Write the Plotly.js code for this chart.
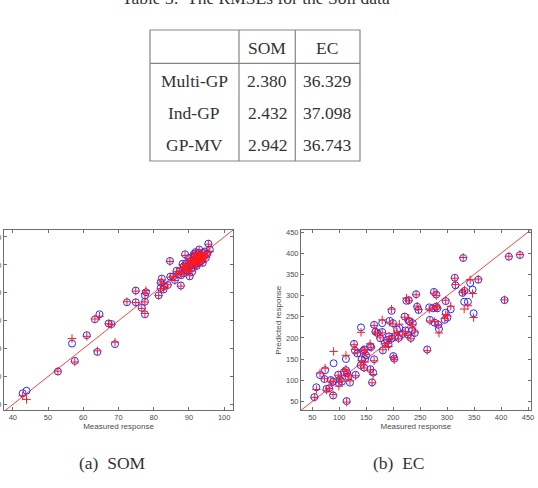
<!DOCTYPE html>
<html>
<head>
<meta charset="utf-8">
<script src="https://cdn.plot.ly/plotly-3.0.1.min.js"></script>
<style>
html,body{margin:0;padding:0;background:#fff;}
#chart{width:538px;height:488px;}
</style>
</head>
<body>
<div id="chart"></div>
<script>
// ---- Table data ----
const tableTitle = 'Table 3:  The RMSEs for the Soil data';
const tableCols = ['SOM', 'EC'];
const tableRows = ['Multi-GP', 'Ind-GP', 'GP-MV'];
const rmseSOM = [2.380, 2.432, 2.942];
const rmseEC = [36.329, 37.098, 36.743];

// ---- (a) SOM: measured vs predicted ----
const somMeasured = [42.8,43.9,52.8,56.8,57.6,61.0,63.3,64.0,64.6,67.2,68.0,69.0,72.4,74.9,74.9,76.6,77.5,77.8,77.5,77.5,
  81.4,82.0,82.3,82.0,82.8,83.0,84.0,84.6,84.7,85.5,86.0,86.9,87.7,87.4,88.2,88.9,88.4,89.1,89.7,90.2,
  90.6,91.2,91.5,92.9,93.6,93.9,94.5,95.5,95.9,93.9,
  88.8,89.4,89.9,90.4,90.8,91.0,91.3,91.6,91.8,92.0,92.1,92.3,92.4,92.6,92.8,92.9,93.1,93.3,93.4,93.0,
  92.2,91.4,90.0,89.3,88.5,92.7,94.2,94.8,95.2,87.8,86.5,90.9,91.9];
const somPredBlue = [44.0,44.9,51.8,61.8,55.6,64.8,70.5,58.8,72.3,69.0,68.8,61.6,76.6,80.8,76.6,74.6,79.1,80.2,76.8,72.3,
  79.1,83.7,85.1,81.8,81.2,82.4,82.8,91.4,85.8,85.8,84.6,86.6,82.6,87.7,90.4,93.8,87.0,89.2,87.7,85.9,
  90.4,91.9,93.3,95.5,91.9,90.7,94.8,97.6,95.5,94.3,
  88.4,90.6,89.4,91.2,88.8,90.1,92.6,91.0,89.9,92.0,93.1,91.5,90.5,92.5,91.9,93.6,92.2,93.0,91.3,90.9,
  89.6,93.9,92.5,88.1,89.5,94.3,93.1,92.5,94.0,86.3,87.9,87.5,94.6];
const somPredRed = [43.1,41.8,51.9,63.6,55.2,64.4,70.6,59.2,71.6,68.9,68.6,62.3,76.8,80.6,76.5,74.4,79.7,80.8,76.7,72.6,
  79.0,83.5,84.6,81.4,81.5,82.2,82.9,91.2,85.6,85.9,84.4,86.8,82.4,87.5,90.1,93.4,87.3,89.0,87.9,86.1,
  90.2,91.7,93.0,95.2,92.1,90.9,94.5,97.4,94.8,94.0,
  88.6,90.4,89.6,91.0,89.1,90.3,92.4,91.2,90.1,91.8,92.9,91.3,90.8,92.6,92.0,93.3,92.4,92.7,91.5,91.2,
  89.9,93.6,92.3,88.3,89.3,94.1,92.9,92.7,93.6,86.5,87.7,87.8,94.4];

// ---- (b) EC: measured vs predicted ----
const ecMeasured = [53.7,57.5,64.3,73.7,72.4,76.2,81.2,84.3,88.6,89.5,88.6,98.0,99.2,101.0,104.8,108.6,112.3,112.3,113.6,114.8,
  119.8,117.0,127.3,129.1,130.4,133.5,139.7,140.3,141.6,144.1,146.6,146.0,147.8,149.7,157.2,157.8,159.0,160.9,162.8,164.6,
  164.6,167.1,170.9,175.9,179.6,180.8,179.6,184.6,188.3,192.1,191.4,193.3,197.0,197.0,199.5,200.2,202.0,202.6,207.0,210.1,
  211.4,217.6,221.3,222.6,224.5,227.6,228.8,228.8,230.7,232.6,235.0,236.3,240.0,242.5,244.4,246.9,263.1,266.8,268.1,273.7,
  275.5,276.8,279.9,279.9,281.8,283.6,284.9,297.4,297.4,295.5,300.5,306.7,314.2,315.4,328.5,329.8,331.6,332.2,338.5,342.8,
  347.2,349.1,357.8,406.4,414.5,435.1];
const ecPredBlue = [60.1,83.4,112.2,123.8,102.8,79.5,81.1,100.5,96.6,140.1,64.0,113.0,93.5,102.0,96.6,119.2,150.2,123.8,50.8,116.8,
  94.3,108.0,186.0,170.0,113.0,163.4,135.5,224.8,149.5,169.7,172.8,130.0,150.0,158.8,180.5,126.1,178.2,95.0,118.0,149.5,
  231.0,214.7,211.6,199.2,234.9,170.4,214.0,188.3,194.5,203.8,185.0,240.4,264.0,198.4,234.9,157.2,151.0,202.3,220.0,200.0,
  223.3,209.3,250.5,217.8,287.8,207.7,289.3,240.0,238.8,200.0,218.0,234.9,211.6,303.3,273.8,266.0,172.8,272.2,242.7,269.9,
  308.7,236.0,302.5,273.8,269.9,231.0,221.0,287.0,259.8,242.7,248.1,267.6,342.1,324.3,306.4,388.8,285.4,311.0,285.4,329.7,
  314.2,258.2,337.5,289.3,391.9,395.8];
const ecPredRed = [59.5,78.0,116.8,128.5,103.5,76.4,80.5,98.0,96.0,168.1,66.0,112.0,86.0,104.0,97.5,121.0,158.8,126.0,48.5,114.0,
  98.5,110.0,184.0,172.8,110.5,165.0,134.0,213.2,147.0,172.0,170.5,129.0,143.2,161.0,186.0,124.0,177.0,94.0,113.7,146.0,
  229.0,214.0,210.0,200.0,242.7,172.0,212.0,186.0,187.0,203.0,179.8,237.3,268.0,199.0,233.0,154.0,148.5,210.0,214.0,198.0,
  232.6,207.0,249.0,214.0,294.0,206.0,288.0,246.6,237.0,198.0,223.3,231.0,214.0,302.0,275.0,267.0,170.0,268.0,240.0,271.0,
  306.0,238.8,300.0,275.0,271.0,232.0,211.6,289.0,255.0,246.0,252.0,275.0,341.0,326.0,308.0,390.0,268.3,313.0,276.0,337.5,
  304.9,248.1,339.0,290.0,393.0,397.0];

// axis ranges
const somRangeX = [37.5, 102.5];
const somRangeY = [38, 102.5];
const ecRange = [29, 455];

const W = 538, H = 488;
const px = v => v / W;
const py = v => 1 - v / H;

const axisGray = '#6e6e6e';
const tickFont = {family: 'Liberation Sans, Arial, sans-serif', size: 7.5, color: '#4d4d4d'};
const titleFont = {family: 'Liberation Sans, Arial, sans-serif', size: 8, color: '#4d4d4d'};
const serif = {family: 'Liberation Serif, DejaVu Serif, serif', size: 17.5, color: '#333333'};

function baseAxis(extra) {
  return Object.assign({
    showline: true, linecolor: axisGray, linewidth: 1, mirror: 'ticks',
    ticks: 'inside', ticklen: 3, tickcolor: axisGray, tickwidth: 1,
    showgrid: false, zeroline: false, tickfont: tickFont, automargin: false
  }, extra);
}

const blueMarker = {symbol: 'circle-open', size: 7, color: '#2b2bff', line: {color: '#2b2bff', width: 1}};
const redMarker = {symbol: 'cross-thin', size: 6, color: '#ff1a1a', line: {color: '#ff1a1a', width: 1}};

const traces = [
  {x: somRangeX, y: somRangeX, xaxis: 'x', yaxis: 'y', mode: 'lines', line: {color: '#ff4040', width: 1}, hoverinfo: 'skip'},
  {x: somMeasured, y: somPredBlue, xaxis: 'x', yaxis: 'y', mode: 'markers', marker: blueMarker},
  {x: somMeasured, y: somPredRed, xaxis: 'x', yaxis: 'y', mode: 'markers', marker: redMarker},
  {x: ecRange, y: ecRange, xaxis: 'x2', yaxis: 'y2', mode: 'lines', line: {color: '#ff4040', width: 1}, hoverinfo: 'skip'},
  {x: ecMeasured, y: ecPredBlue, xaxis: 'x2', yaxis: 'y2', mode: 'markers', marker: blueMarker},
  {x: ecMeasured, y: ecPredRed, xaxis: 'x2', yaxis: 'y2', mode: 'markers', marker: redMarker}
];

// table geometry (pixels)
const tL = 150, tR = 360, tT = 30, tB = 161, tV1 = 239, tV2 = 295.3, tH = 63.3;
const colX = [194, 267, 327];
const rowY = [80.7, 113.3, 145.3];
const headY = 47.7;
const lineStyle = {color: '#858585', width: 1.2};

const shapes = [
  {type: 'rect', xref: 'paper', yref: 'paper', x0: px(tL), x1: px(tR), y0: py(tB), y1: py(tT), line: lineStyle},
  {type: 'line', xref: 'paper', yref: 'paper', x0: px(tV1), x1: px(tV1), y0: py(tB), y1: py(tT), line: lineStyle},
  {type: 'line', xref: 'paper', yref: 'paper', x0: px(tV2), x1: px(tV2), y0: py(tB), y1: py(tT), line: lineStyle},
  {type: 'line', xref: 'paper', yref: 'paper', x0: px(tL), x1: px(tR), y0: py(tH), y1: py(tH), line: lineStyle}
];

const annotations = [];
function addText(text, x, y, opts) {
  annotations.push(Object.assign({text: text, xref: 'paper', yref: 'paper', x: px(x), y: py(y),
    xanchor: 'center', yanchor: 'middle', showarrow: false, font: serif}, opts || {}));
}
addText(tableTitle, 256, 10, {yanchor: 'bottom'});
tableCols.forEach((c, i) => addText(c, colX[i + 1], headY));
tableRows.forEach((r, i) => {
  addText(r, colX[0], rowY[i]);
  addText(rmseSOM[i].toFixed(3), colX[1], rowY[i]);
  addText(rmseEC[i].toFixed(3), colX[2], rowY[i]);
});
addText('(a)  SOM', 112, 463);
addText('(b)  EC', 399, 463);

const layout = {
  width: W, height: H,
  margin: {l: 0, r: 0, t: 0, b: 0},
  paper_bgcolor: '#ffffff', plot_bgcolor: '#ffffff',
  showlegend: false,
  xaxis: baseAxis({domain: [px(4), px(233)], range: somRangeX, dtick: 10, tick0: 40, anchor: 'y',
    title: {text: 'Measured response', font: titleFont, standoff: 2}}),
  yaxis: baseAxis({domain: [py(410), py(230)], range: somRangeY, dtick: 10, tick0: 40, anchor: 'x'}),
  xaxis2: baseAxis({domain: [px(301), px(530.7)], range: ecRange, dtick: 50, tick0: 50, anchor: 'y2',
    title: {text: 'Measured response', font: titleFont, standoff: 2}}),
  yaxis2: baseAxis({domain: [py(410.3), py(230)], range: ecRange, dtick: 50, tick0: 50, anchor: 'x2',
    title: {text: 'Predicted response', font: titleFont, standoff: 3}}),
  shapes: shapes,
  annotations: annotations
};

Plotly.newPlot('chart', traces, layout, {staticPlot: true, displayModeBar: false});
</script>
</body>
</html>
